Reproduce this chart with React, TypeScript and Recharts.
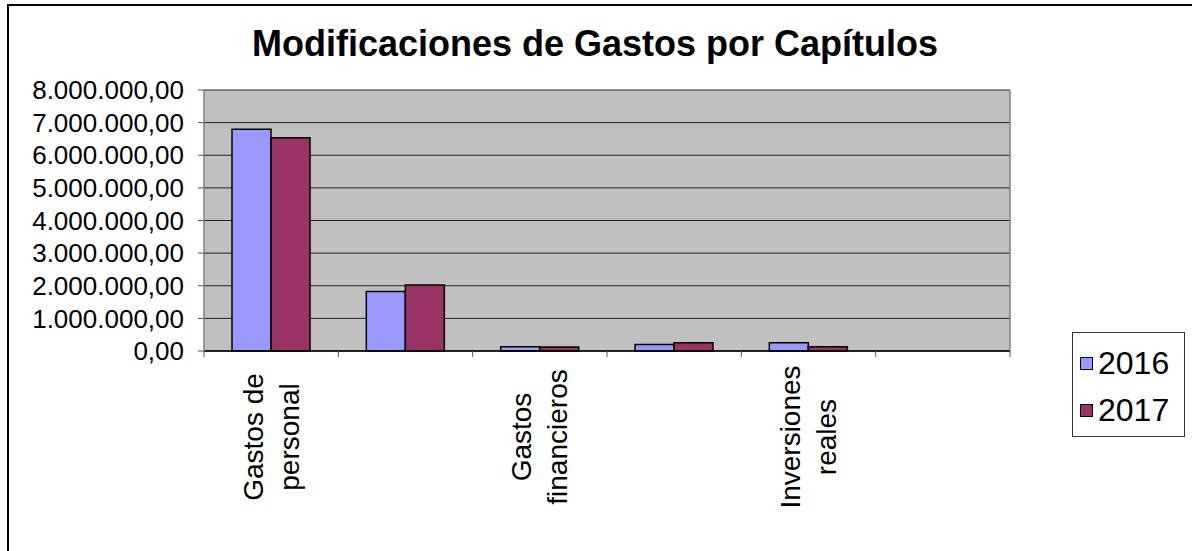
import React from "react";
import { BarChart, Bar, XAxis, YAxis, CartesianGrid } from "recharts";

const categories = [
  "Gastos de\npersonal",
  "Gastos en bienes\ncorrientes y servicios",
  "Gastos\nfinancieros",
  "Transferencias\ncorrientes",
  "Inversiones\nreales",
  "Transferencias\nde capital",
];
const values2016 = [6800000, 1820000, 130000, 200000, 250000, 0];
const values2017 = [6540000, 2020000, 120000, 250000, 130000, 0];
const years = ["2016", "2017"];
const colors = ["#9999FF", "#993366"];
const yTicks = [0, 1000000, 2000000, 3000000, 4000000, 5000000, 6000000, 7000000, 8000000];

const data = categories.map((name, i) => ({
  name,
  y2016: values2016[i],
  y2017: values2017[i],
}));

const FONT = "'Liberation Sans', Arial, sans-serif";

// es-ES style: 8.000.000,00
const fmt = (v: number) => {
  const int = Math.round(v).toString().replace(/\B(?=(\d{3})+(?!\d))/g, ".");
  return int + ",00";
};

const CategoryTick = (props: any) => {
  const { x, y, payload, index } = props;
  const half = payload.offset || 0;
  const lines: string[] = String(payload.value).split("\n");
  const last = index === categories.length - 1;
  const cy = y + 86;
  return (
    <g>
      <line x1={x - half} y1={y} x2={x - half} y2={y + 6} stroke="#555" />
      {last && <line x1={x + half} y1={y} x2={x + half} y2={y + 6} stroke="#555" />}
      {index % 2 === 0 &&
        lines.map((ln, k) => {
          const lx = x + (k - (lines.length - 1) / 2) * 36;
          return (
            <text
              key={k}
              x={lx}
              y={cy}
              transform={`rotate(-90, ${lx}, ${cy})`}
              textAnchor="middle"
              dominantBaseline="central"
              fontFamily={FONT}
              fontSize={28}
              fill="#000"
            >
              {ln}
            </text>
          );
        })}
    </g>
  );
};

export default function App() {
  return (
    <div
      style={{
        position: "absolute",
        left: 0,
        top: 0,
        width: 1192,
        height: 551,
        overflow: "hidden",
        background: "#fff",
        fontFamily: FONT,
      }}
    >
      <div
        style={{
          position: "absolute",
          left: 7,
          top: 4,
          width: 1400,
          height: 800,
          border: "2px solid #000",
        }}
      />
      <div
        style={{
          position: "absolute",
          left: 0,
          width: 1190,
          top: 22,
          textAlign: "center",
          fontWeight: "bold",
          fontSize: 36,
          lineHeight: "44px",
        }}
      >
        Modificaciones de Gastos por Capítulos
      </div>
      <div style={{ position: "absolute", left: 0, top: 0 }}>
        <BarChart
          width={1192}
          height={551}
          data={data}
          margin={{ top: 90, right: 181, bottom: 170, left: 0 }}
          barGap={0}
        >
          <CartesianGrid vertical={false} stroke="#222" fill="#C0C0C0" fillOpacity={1} />
          <XAxis
            dataKey="name"
            interval={0}
            height={30}
            tickLine={false}
            tickSize={0}
            tickMargin={0}
            axisLine={{ stroke: "#000", strokeWidth: 1.5 }}
            tick={<CategoryTick />}
          />
          <YAxis
            width={204}
            domain={[0, 8000000]}
            ticks={yTicks}
            tickFormatter={fmt}
            interval={0}
            tickSize={6}
            tickMargin={14}
            axisLine={{ stroke: "#808080", strokeWidth: 1.5 }}
            tickLine={{ stroke: "#555" }}
            tick={{ fill: "#000", fontSize: 26, fontFamily: FONT }}
          />
          <YAxis
            yAxisId="right"
            orientation="right"
            width={1}
            domain={[0, 8000000]}
            tick={false}
            tickLine={false}
            axisLine={{ stroke: "#808080", strokeWidth: 1.5 }}
          />
          <Bar dataKey="y2016" name={years[0]} fill={colors[0]} stroke="#000" strokeWidth={1.5} barSize={39} isAnimationActive={false} />
          <Bar dataKey="y2017" name={years[1]} fill={colors[1]} stroke="#000" strokeWidth={1.5} barSize={39} isAnimationActive={false} />
        </BarChart>
      </div>
      <div
        style={{
          position: "absolute",
          left: 1072,
          top: 332,
          width: 113,
          height: 105,
          border: "1px solid #333",
          boxSizing: "border-box",
          paddingTop: 7,
        }}
      >
        {years.map((yr, i) => (
          <div
            key={yr}
            style={{ display: "flex", alignItems: "center", height: 47, paddingLeft: 7 }}
          >
            <span
              style={{
                display: "inline-block",
                width: 11,
                height: 11,
                background: colors[i],
                border: "1.5px solid #000",
                marginRight: 5,
              }}
            />
            <span style={{ fontSize: 32 }}>{yr}</span>
          </div>
        ))}
      </div>
    </div>
  );
}
